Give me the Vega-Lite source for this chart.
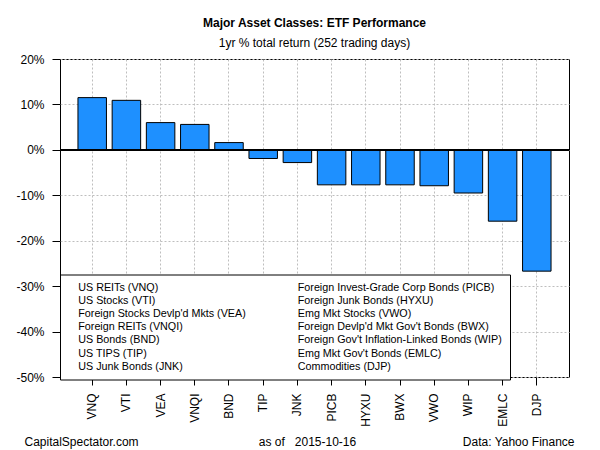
{
  "$schema": "https://vega.github.io/schema/vega-lite/v6.json",
  "width": 509,
  "height": 318,
  "autosize": {"type": "none"},
  "padding": {"left": 60, "top": 59, "right": 31, "bottom": 73},
  "background": "white",
  "title": {
    "text": "Major Asset Classes: ETF Performance",
    "subtitle": "1yr % total return (252 trading days)",
    "anchor": "middle",
    "frame": "group",
    "font": "Liberation Sans",
    "fontSize": 12,
    "fontWeight": "bold",
    "color": "black",
    "subtitleFont": "Liberation Sans",
    "subtitleFontSize": 12,
    "subtitleColor": "black",
    "subtitlePadding": 8,
    "offset": 3
  },
  "data": {
    "values": [
      {"ticker": "VNQ", "name": "US REITs (VNQ)", "ret": 11.5},
      {"ticker": "VTI", "name": "US Stocks (VTI)", "ret": 10.9},
      {"ticker": "VEA", "name": "Foreign Stocks Devlp'd Mkts (VEA)", "ret": 6.0},
      {"ticker": "VNQI", "name": "Foreign REITs (VNQI)", "ret": 5.6},
      {"ticker": "BND", "name": "US Bonds (BND)", "ret": 1.6},
      {"ticker": "TIP", "name": "US TIPS (TIP)", "ret": -1.9},
      {"ticker": "JNK", "name": "US Junk Bonds (JNK)", "ret": -2.8},
      {"ticker": "PICB", "name": "Foreign Invest-Grade Corp Bonds (PICB)", "ret": -7.7},
      {"ticker": "HYXU", "name": "Foreign Junk Bonds (HYXU)", "ret": -7.7},
      {"ticker": "BWX", "name": "Foreign Devlp'd Mkt Gov't Bonds (BWX)", "ret": -7.7},
      {"ticker": "VWO", "name": "Emg Mkt Stocks (VWO)", "ret": -7.9},
      {"ticker": "WIP", "name": "Foreign Gov't Inflation-Linked Bonds (WIP)", "ret": -9.5},
      {"ticker": "EMLC", "name": "Emg Mkt Gov't Bonds (EMLC)", "ret": -15.7},
      {"ticker": "DJP", "name": "Commodities (DJP)", "ret": -26.7}
    ]
  },
  "layer": [
    {
      "mark": {"type": "bar", "stroke": "black", "strokeWidth": 1, "opacity": 1},
      "encoding": {
        "x": {
          "field": "ticker",
          "type": "nominal",
          "sort": null,
          "scale": {"paddingInner": 0.167, "paddingOuter": 0.525},
          "axis": {
            "labelAngle": -90,
            "labelFontSize": 12,
            "labelPadding": 8,
            "tickSize": 8,
            "bandPosition": 0.5,
            "domain": false,
            "grid": true,
            "gridColor": "#BEBEBE",
            "gridDash": [2, 2],
            "gridWidth": 1,
            "title": "as of\u00a0\u00a0\u00a02015-10-16",
            "titleFontSize": 12,
            "titleFontWeight": "normal",
            "titleBaseline": "alphabetic",
            "titleAlign": "center",
            "titleX": 247,
            "titleY": 68.5
          }
        },
        "y": {
          "field": "ret",
          "type": "quantitative",
          "scale": {"domain": [-50, 20], "nice": false, "zero": false},
          "axis": {
            "values": [-50, -40, -30, -20, -10, 0, 10, 20],
            "labelExpr": "datum.value + '%'",
            "labelFontSize": 12,
            "labelPadding": 8,
            "tickSize": 8,
            "domain": false,
            "grid": true,
            "gridColor": "#BEBEBE",
            "gridDash": [2, 2],
            "gridWidth": 1,
            "title": "CapitalSpectator.com",
            "titleAngle": 0,
            "titleAlign": "left",
            "titleBaseline": "alphabetic",
            "titleFontSize": 12,
            "titleFontWeight": "normal",
            "titleX": -36,
            "titleY": 386.5
          }
        },
        "color": {
          "field": "name",
          "type": "nominal",
          "scale": {
            "domain": [
              "US REITs (VNQ)", "US Stocks (VTI)", "Foreign Stocks Devlp'd Mkts (VEA)",
              "Foreign REITs (VNQI)", "US Bonds (BND)", "US TIPS (TIP)", "US Junk Bonds (JNK)",
              "Foreign Invest-Grade Corp Bonds (PICB)", "Foreign Junk Bonds (HYXU)",
              "Emg Mkt Stocks (VWO)", "Foreign Devlp'd Mkt Gov't Bonds (BWX)",
              "Foreign Gov't Inflation-Linked Bonds (WIP)", "Emg Mkt Gov't Bonds (EMLC)",
              "Commodities (DJP)"
            ],
            "range": ["#1E90FF", "#1E90FF", "#1E90FF", "#1E90FF", "#1E90FF", "#1E90FF", "#1E90FF", "#1E90FF", "#1E90FF", "#1E90FF", "#1E90FF", "#1E90FF", "#1E90FF", "#1E90FF"]
          },
          "legend": {
            "title": null,
            "orient": "none",
            "legendX": 0,
            "legendY": 215.5,
            "columns": 2,
            "columnPadding": 40.5,
            "rowPadding": 1.25,
            "padding": 7.5,
            "fillColor": "white",
            "strokeColor": "black",
            "labelFont": "Liberation Sans",
            "labelFontSize": 10.75,
            "labelColor": "black",
            "labelLimit": 400,
            "labelOffset": 0,
            "symbolType": "square",
            "symbolSize": 25,
            "symbolOpacity": 0,
            "symbolStrokeWidth": 0,
            "gridAlign": "each"
          }
        }
      }
    },
    {
      "mark": {"type": "rule", "color": "black", "strokeWidth": 1},
      "encoding": {
        "y": {
          "datum": 0,
          "type": "quantitative",
          "scale": {"domain": [-50, 20], "nice": false, "zero": false},
          "axis": {
            "orient": "right",
            "labels": false,
            "ticks": false,
            "domain": false,
            "grid": false,
            "title": "Data: Yahoo Finance",
            "titleAngle": 0,
            "titleAlign": "right",
            "titleBaseline": "alphabetic",
            "titleFontSize": 12,
            "titleFontWeight": "normal",
            "titleX": 5,
            "titleY": 386.5
          }
        }
      }
    }
  ],
  "resolve": {"scale": {"y": "independent"}, "axis": {"y": "independent"}},
  "config": {
    "view": {"stroke": "black", "strokeWidth": 1},
    "font": "Liberation Sans",
    "axis": {
      "labelFont": "Liberation Sans",
      "titleFont": "Liberation Sans",
      "labelColor": "black",
      "titleColor": "black",
      "tickColor": "black",
      "tickWidth": 1
    }
  }
}
